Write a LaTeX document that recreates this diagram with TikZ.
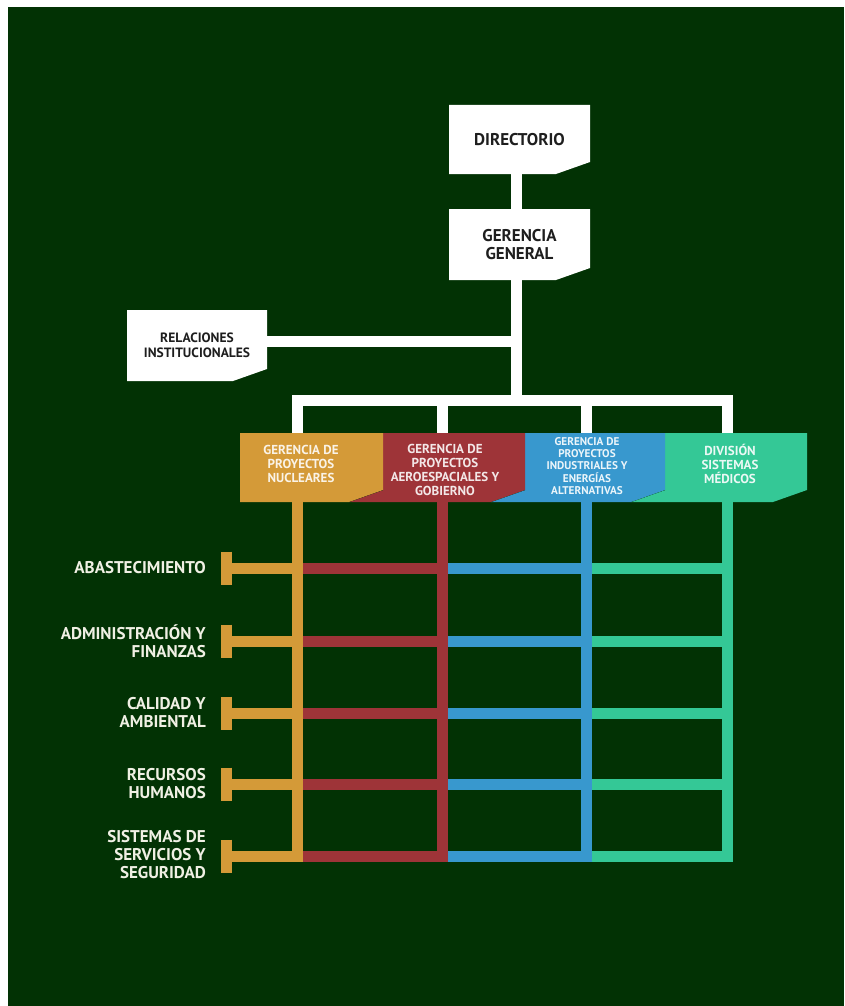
\documentclass[tikz,border=0pt]{standalone}
\usepackage{fontspec}
\setmainfont{PT Sans}
\definecolor{bg}{RGB}{2,50,4}
\definecolor{corange}{RGB}{212,154,56}
\definecolor{cred}{RGB}{158,52,56}
\definecolor{cblue}{RGB}{56,152,206}
\definecolor{cgreen}{RGB}{52,200,150}
\definecolor{lbl}{RGB}{240,240,228}
\definecolor{ink}{RGB}{30,30,30}
\tikzset{
  cutfill/.style={path picture={\fill[#1] (path picture bounding box.north west) -- (path picture bounding box.north east) -- ([yshift=12pt]path picture bounding box.south east) -- ([xshift=-34pt]path picture bounding box.south east) -- (path picture bounding box.south west) -- cycle;}},
  wbox/.style={inner sep=0pt, minimum width=141pt, minimum height=69pt, align=center, text=ink, font=\bfseries\fontsize{17}{18.5}\selectfont, cutfill=white},
  cbox/.style={inner sep=0pt, minimum height=69pt, cutfill=#1},
  ctext/.style={inner sep=0pt, align=center, font=\bfseries\fontsize{13}{14.2}\selectfont},
  lab/.style={inner sep=0pt, align=right, anchor=east, text=lbl, font=\bfseries\fontsize{17}{18}\selectfont},
  wline/.style={draw=white, line width=11pt},
  cline/.style={draw=#1, line width=11pt},
  tbar/.style={draw=corange, line width=11pt}
}
\begin{document}
\begin{tikzpicture}[x=1pt,y=-1pt]
\fill[white] (0,0) rectangle (844,1006);
\fill[bg] (8,7) rectangle (844,1006);
\useasboundingbox (0,0) rectangle (844,1006);

% white boxes
\node[wbox] (dir) at (519.5,139.5) {DIRECTORIO};
\node[wbox, minimum height=71pt] (gg) at (519.5,244.5) {GERENCIA\\GENERAL};
\node[wbox, minimum width=140pt, minimum height=71pt, font=\bfseries\fontsize{13.5}{14.5}\selectfont] (rel) at (197,345.5) {RELACIONES\\INSTITUCIONALES};

% coloured boxes (drawn right to left so wedges sit below)
\node[cbox=cgreen, minimum width=142pt] (gd) at (736,467.5) {};
\node[cbox=cblue, minimum width=140pt] (gb) at (595,467.5) {};
\node[cbox=cred, minimum width=142pt] (gr) at (454,467.5) {};
\node[cbox=corange, minimum width=143pt] (go) at (311.5,467.5) {};
\fill[cred] ([xshift=-34pt]go.south east) -- ([yshift=12pt]go.south east) -- (go.south east) -- cycle;
\fill[cblue] ([xshift=-34pt]gr.south east) -- ([yshift=12pt]gr.south east) -- (gr.south east) -- cycle;
\fill[cgreen] ([xshift=-34pt]gb.south east) -- ([yshift=12pt]gb.south east) -- (gb.south east) -- cycle;

\node[ctext, text=white!88!corange] (got) at (301,464) {GERENCIA DE\\PROYECTOS\\NUCLEARES};
\node[ctext, text=white!88!cred] (grt) at (445,470) {GERENCIA DE\\PROYECTOS\\AEROESPACIALES Y\\GOBIERNO};
\node[ctext, text=white!90!cblue, font=\bfseries\fontsize{11.2}{12.2}\selectfont] (gbt) at (587,466) {GERENCIA DE\\PROYECTOS\\INDUSTRIALES Y\\ENERGÍAS\\ALTERNATIVAS};
\node[ctext, text=white!90!cgreen] (gdt) at (730,464) {DIVISIÓN\\SISTEMAS\\MÉDICOS};

% key coordinates
\coordinate (trunk) at (516.5,400.5);
\coordinate (vo) at (297,502);
\coordinate (vr) at (442,502);
\coordinate (vb) at (586,502);
\coordinate (vg) at (727,502);
\coordinate (bot) at (0,861.5);

% white connectors
\draw[wline] ([xshift=-3pt]dir.south) -- ([xshift=-3pt]gg.north);
\draw[wline] ([xshift=-3pt]gg.south) -- (trunk);
\draw[wline] ([yshift=4pt]rel.east) -- ([yshift=4pt]rel.east -| trunk);
\draw[wline] (go.north -| vo) -- (vo |- trunk) -- (vg |- trunk) -- (gd.north -| vg);
\draw[wline] (vr |- trunk) -- (gr.north -| vr);
\draw[wline] (vb |- trunk) -- (gb.north -| vb);

% rows
\foreach \y/\n in {568/1,641/2,713/3,784/4,856/5}{
  \coordinate (t\n) at (226.5,\y);
  \draw[cline=corange] (t\n) -- (t\n -| vo);
  \draw[tbar] ([yshift=16.5pt]t\n) -- ([yshift=-16.5pt]t\n);
  \draw[cline=cred] (t\n -| vo) -- (t\n -| vr);
  \draw[cline=cblue] (t\n -| vr) -- (t\n -| vb);
  \draw[cline=cgreen] (t\n -| vb) -- ([xshift=5.5pt]t\n -| vg);
}

% verticals
\draw[cline=corange] (vo) -- (vo |- bot);
\draw[cline=cred] (vr) -- (vr |- bot);
\draw[cline=cblue] (vb) -- (vb |- bot);
\draw[cline=cgreen] (vg) -- (vg |- bot);

% labels
\node[lab] (l1) at (206,568) {ABASTECIMIENTO};
\node[lab] (l2) at (206,641) {ADMINISTRACIÓN Y\\FINANZAS};
\node[lab] (l3) at (206,713) {CALIDAD Y\\AMBIENTAL};
\node[lab] (l4) at (206,784) {RECURSOS\\HUMANOS};
\node[lab] (l5) at (206,855) {SISTEMAS DE\\SERVICIOS Y\\SEGURIDAD};
\end{tikzpicture}
\end{document}
